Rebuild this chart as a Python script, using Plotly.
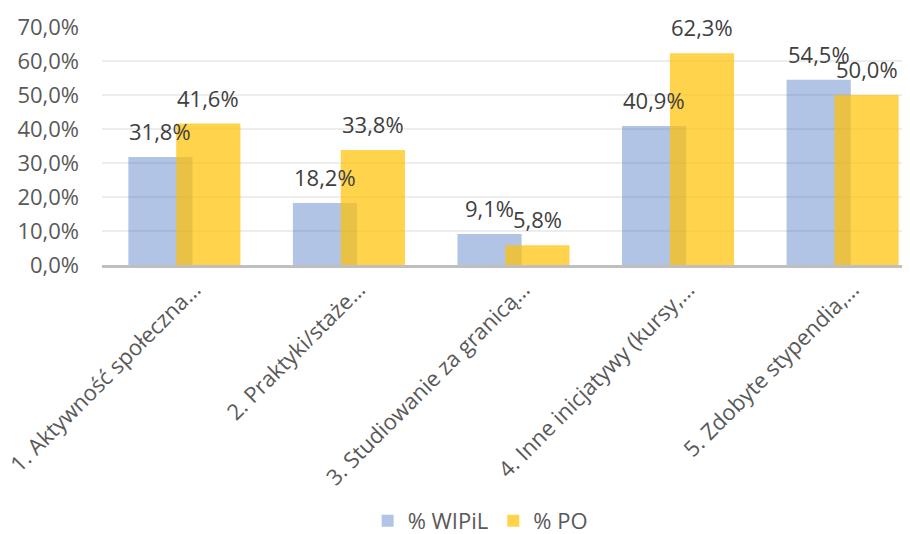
import plotly.graph_objects as go

categories = ["1. Aktywność społeczna…", "2. Praktyki/staże…", "3. Studiowanie za granicą…",
              "4. Inne inicjatywy (kursy,…", "5. Zdobyte stypendia,…"]
wipil = [31.8, 18.2, 9.1, 40.9, 54.5]
po = [41.6, 33.8, 5.8, 62.3, 50.0]
series_names = ["% WIPiL", "% PO"]
y_ticks = [0, 10, 20, 30, 40, 50, 60, 70]

FONT = "Open Sans"
FS = 22
x_idx = list(range(len(categories)))

fig = go.Figure()
fig.add_trace(go.Bar(x=x_idx, y=wipil, name=series_names[0], width=0.39, offset=-0.34,
                     marker=dict(color="rgba(68,114,196,0.42)", line=dict(width=0))))
fig.add_trace(go.Bar(x=x_idx, y=po, name=series_names[1], width=0.39, offset=-0.049,
                     marker=dict(color="rgba(255,192,0,0.7)", line=dict(width=0))))

def fmt(v):
    return f"{v:.1f}".replace(".", ",") + "%"

for i, (a, b) in enumerate(zip(wipil, po)):
    fig.add_annotation(x=i - 0.146, y=a, text=fmt(a), showarrow=False, yanchor="bottom",
                       yshift=9, font=dict(family=FONT, size=FS, color="#404040"))
    fig.add_annotation(x=i + 0.146, y=b, text=fmt(b), showarrow=False, yanchor="bottom",
                       yshift=9, font=dict(family=FONT, size=FS, color="#404040"))

fig.update_layout(
    width=902, height=526,
    margin=dict(l=94, r=0, t=19, b=269, autoexpand=False),
    barmode="overlay",
    plot_bgcolor="white", paper_bgcolor="white",
    font=dict(family=FONT, size=FS, color="#595959"),
    showlegend=True,
    legend=dict(orientation="h", x=0.468, xanchor="center", y=-1.075, yanchor="middle",
                font=dict(family=FONT, size=FS, color="#595959"), itemwidth=30),
    xaxis=dict(range=[-0.5, 4.41], tickmode="array", tickvals=x_idx, ticktext=categories,
               tickangle=-45, showgrid=False, showline=True, linecolor="#BFBFBF", linewidth=3,
               ticks="", automargin=False, ticklabeloverflow="allow", ticklabelshift=10,
               tickfont=dict(family=FONT, size=FS, color="#595959"), fixedrange=True),
    yaxis=dict(range=[0, 70], tickmode="array", tickvals=y_ticks, automargin=False,
               ticktext=[fmt(v) for v in y_ticks], showgrid=True, gridcolor="#EDEDED",
               gridwidth=1.5, zeroline=False, showline=False, ticks="",
               ticklabelstandoff=22, tickfont=dict(family=FONT, size=FS, color="#595959")),
)

fig.write_html("out.html")
